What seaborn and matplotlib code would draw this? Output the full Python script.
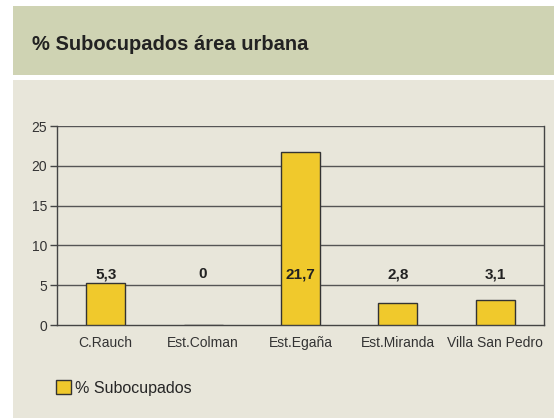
import matplotlib
matplotlib.use("Agg")
import matplotlib.pyplot as plt
from matplotlib.patches import Rectangle, Patch
import seaborn as sns
import pandas as pd

categories = ["C.Rauch", "Est.Colman", "Est.Egaña", "Est.Miranda", "Villa San Pedro"]
values = [5.3, 0.0, 21.7, 2.8, 3.1]
value_labels = ["5,3", "0", "21,7", "2,8", "3,1"]
y_ticks = [0, 5, 10, 15, 20, 25]
series_name = "% Subocupados"
title = "% Subocupados área urbana"

sns.set_theme(style="white")
plt.rcParams["font.family"] = ["Liberation Sans", "DejaVu Sans"]

W, H = 554, 419
fig = plt.figure(figsize=(W / 100, H / 100), dpi=100)
fig.patch.set_facecolor("white")

header_col = "#CFD3B3"
panel_col = "#E8E6DA"
bar_col = "#F0C92C"
edge_col = "#333333"


def px_rect(x0, y0, x1, y1, color):
    fig.patches.append(Rectangle((x0 / W, 1 - y1 / H), (x1 - x0) / W, (y1 - y0) / H,
                                 transform=fig.transFigure, facecolor=color,
                                 edgecolor="none", zorder=-10))


# header band and chart panel
px_rect(13, 6, W, 75, header_col)
px_rect(13, 80, W, 418, panel_col)

fig.text(32 / W, 1 - 44 / H, title, fontsize=14.5, fontweight="bold",
         color="#222222", va="center", ha="left")

left, right, top, bottom = 57, 544, 126, 325
ax = fig.add_axes([left / W, 1 - bottom / H, (right - left) / W, (bottom - top) / H])
ax.set_zorder(1)
ax.set_facecolor("none")

df = pd.DataFrame({"cat": categories, "val": values})
sns.barplot(data=df, x="cat", y="val", color=bar_col, width=0.4,
            edgecolor=edge_col, linewidth=1.0, saturation=1, ax=ax, zorder=3)

ax.set_xlim(-0.5, len(categories) - 0.5)
ax.set_ylim(0, 25)
ax.set_yticks(y_ticks)
ax.set_yticklabels([str(t) for t in y_ticks], fontsize=10, color="#333333")
ax.set_xticks(range(len(categories)))
ax.set_xticklabels(categories, fontsize=10, color="#333333")
ax.set_xticks([i - 0.5 for i in range(len(categories) + 1)], minor=True)
ax.tick_params(axis="x", which="major", length=0, pad=8)
ax.tick_params(axis="x", which="minor", length=6, width=1, color="#444444", direction="out")
ax.tick_params(axis="y", length=5, width=1, color="#444444", direction="out", pad=2, left=True)
ax.set_xlabel("")
ax.set_ylabel("")

for yv in y_ticks[1:]:
    ax.axhline(yv, color="#555555", linewidth=1.0, zorder=1)

ax.spines["top"].set_visible(False)
for side in ["left", "bottom", "right"]:
    ax.spines[side].set_color("#444444")
    ax.spines[side].set_linewidth(1.0)
    ax.spines[side].set_visible(True)

for i, lab in enumerate(value_labels):
    ax.text(i, 6.4, lab, ha="center", va="center", fontsize=11,
            fontweight="bold", color="#222222", zorder=5)

handle = Patch(facecolor=bar_col, edgecolor=edge_col, linewidth=1.0)
fig.legend([handle], [series_name], loc="center left",
           bbox_to_anchor=(56 / W, 1 - 388 / H), frameon=False, fontsize=11.5,
           handlelength=0.95, handleheight=0.95, handletextpad=0.25, borderpad=0,
           borderaxespad=0)

fig.savefig("out.png", dpi=100)
